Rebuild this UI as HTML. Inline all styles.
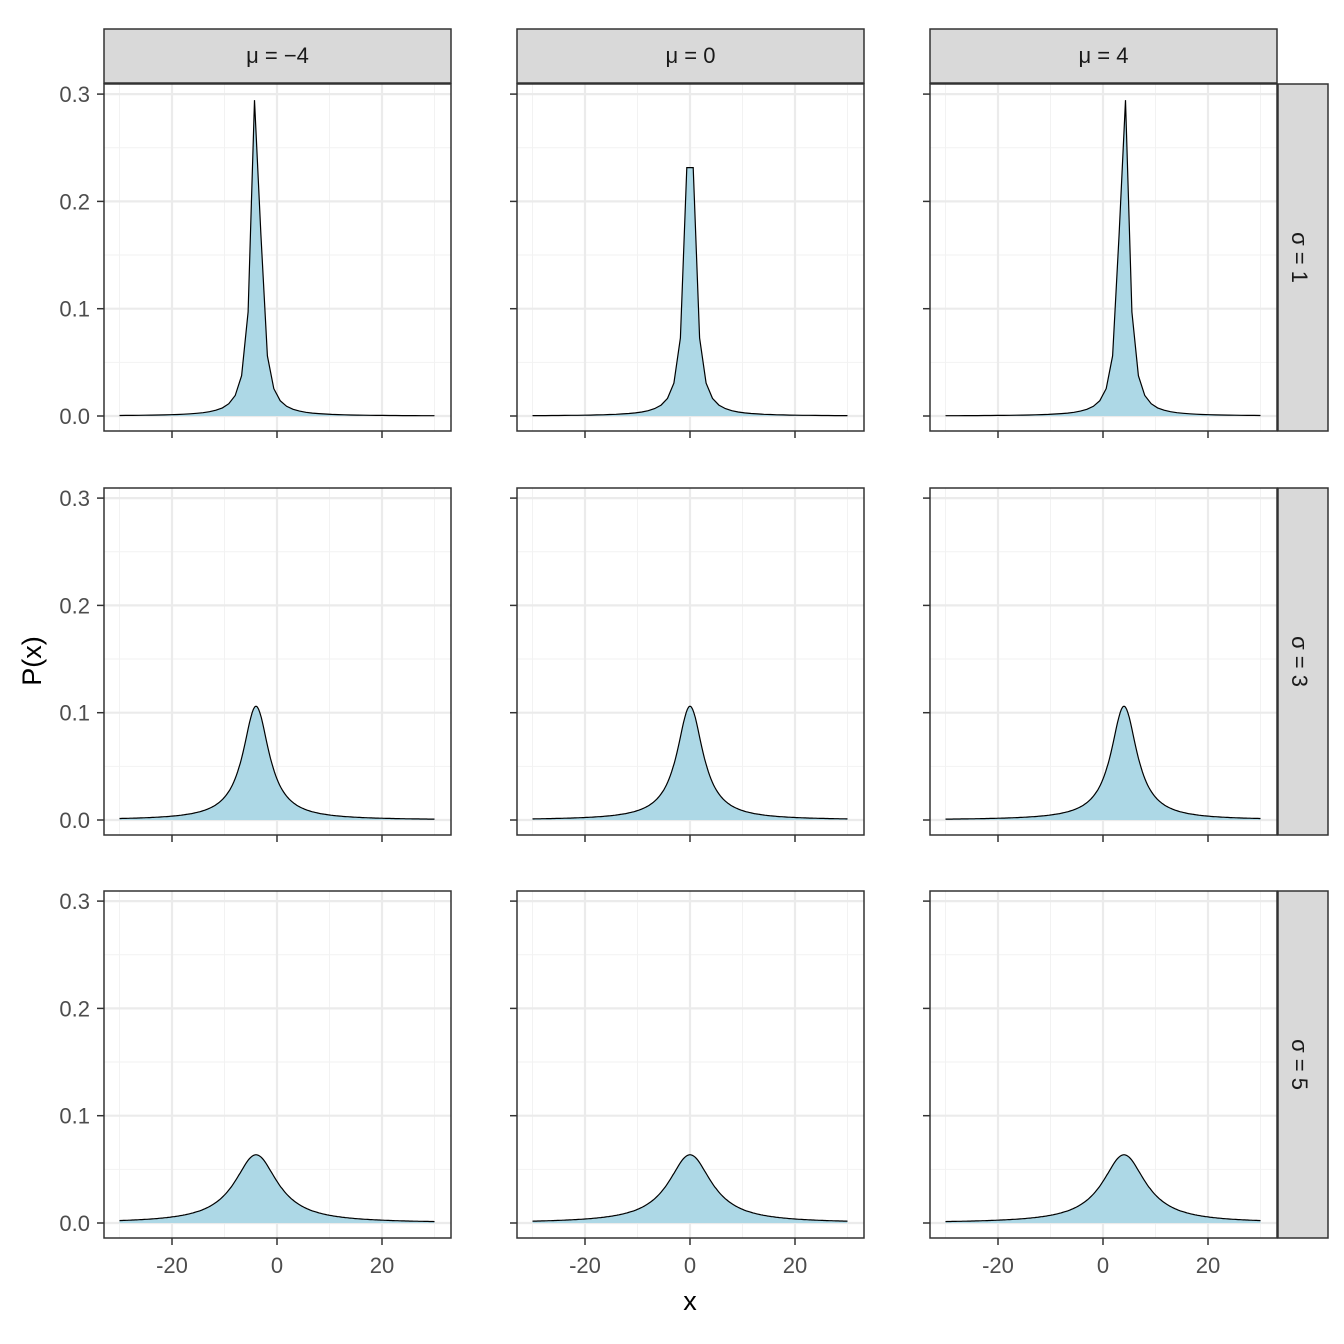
<!DOCTYPE html>
<html><head><meta charset="utf-8"><style>body{margin:0;background:#fff}svg{display:block}</style></head>
<body>
<svg id="s" width="1344" height="1344" xmlns="http://www.w3.org/2000/svg" font-family="Liberation Sans, DejaVu Sans, sans-serif"></svg>
<script>
const s=document.getElementById('s');let h='';
const cols=[104,517,930],rows=[84,488,891],W=347,H=347;
const mus=[-4,0,4],sig=[1,3,5];
const zeroOff=332;
const yp=1073;
const xs=5.25, xc=173;
const pts=[];for(let i=0;i<50;i++)pts.push(-30+60*i/49);
const fine=[];for(let i=0;i<=240;i++)fine.push(-30+60*i/240);
for(let r=0;r<3;r++)for(let c=0;c<3;c++){
 const L=cols[c],T=rows[r];const X=v=>L+xc+v*xs, Y=v=>T+zeroOff-v*yp;
 h+=`<rect x="${L}" y="${T}" width="${W}" height="${H}" fill="#fff"/>`;
 for(const v of [-30,-10,10,30])h+=`<line x1="${X(v)}" x2="${X(v)}" y1="${T}" y2="${T+H}" stroke="#f2f2f2" stroke-width="1"/>`;
 for(const v of [0.05,0.15,0.25])h+=`<line x1="${L}" x2="${L+W}" y1="${Y(v)}" y2="${Y(v)}" stroke="#f2f2f2" stroke-width="1"/>`;
 for(const v of [-20,0,20])h+=`<line x1="${X(v)}" x2="${X(v)}" y1="${T}" y2="${T+H}" stroke="#ebebeb" stroke-width="2.2"/>`;
 for(const v of [0,0.1,0.2,0.3])h+=`<line x1="${L}" x2="${L+W}" y1="${Y(v)}" y2="${Y(v)}" stroke="#ebebeb" stroke-width="2.2"/>`;
 const m=mus[c],sg=sig[r];let d='';
 const P=r==0?pts:fine;
 P.forEach((x,i)=>{const y=1/(Math.PI*sg*(1+((x-m)/sg)**2));d+=(i?'L':'M')+X(x).toFixed(1)+','+Y(y).toFixed(1)});
 h+=`<path d="${d}L${X(30)},${Y(0)}L${X(-30)},${Y(0)}Z" fill="#add8e6"/><path d="${d}" fill="none" stroke="#000" stroke-width="1.2"/>`;
 h+=`<rect x="${L}" y="${T}" width="${W}" height="${H}" fill="none" stroke="#333" stroke-width="1.5"/>`;
 for(const v of [0,0.1,0.2,0.3]){h+=`<line x1="${L-7}" x2="${L}" y1="${Y(v)}" y2="${Y(v)}" stroke="#333" stroke-width="1.5"/>`;
  if(c==0)h+=`<text x="${L-14}" y="${Y(v)+8}" text-anchor="end" font-size="22" fill="#4d4d4d">${v.toFixed(1)}</text>`;}
 for(const v of [-20,0,20]){h+=`<line x1="${X(v)}" x2="${X(v)}" y1="${T+H}" y2="${T+H+7}" stroke="#333" stroke-width="1.5"/>`;
  if(r==2)h+=`<text x="${X(v)}" y="${T+H+35}" text-anchor="middle" font-size="22" fill="#4d4d4d">${v}</text>`;}
}
for(let c=0;c<3;c++){const L=cols[c];h+=`<rect x="${L}" y="29" width="${W}" height="54" fill="#d9d9d9" stroke="#333" stroke-width="1.5"/><text x="${L+W/2}" y="63" text-anchor="middle" font-size="22" fill="#1a1a1a">μ = ${mus[c]<0?'−4':mus[c]}</text>`;}
for(let r=0;r<3;r++){const T=rows[r];h+=`<rect x="1278" y="${T}" width="50" height="${H}" fill="#d9d9d9" stroke="#333" stroke-width="1.5"/><text transform="translate(1292,${T+H/2}) rotate(90)" text-anchor="middle" font-size="22" fill="#1a1a1a">σ = ${sig[r]}</text>`;}
h+=`<text transform="translate(41,661) rotate(-90)" text-anchor="middle" font-size="27" fill="#000">P(x)</text>`;
h+=`<text x="690" y="1310" text-anchor="middle" font-size="27" fill="#000">x</text>`;
s.innerHTML=h;
</script>
</body></html>
